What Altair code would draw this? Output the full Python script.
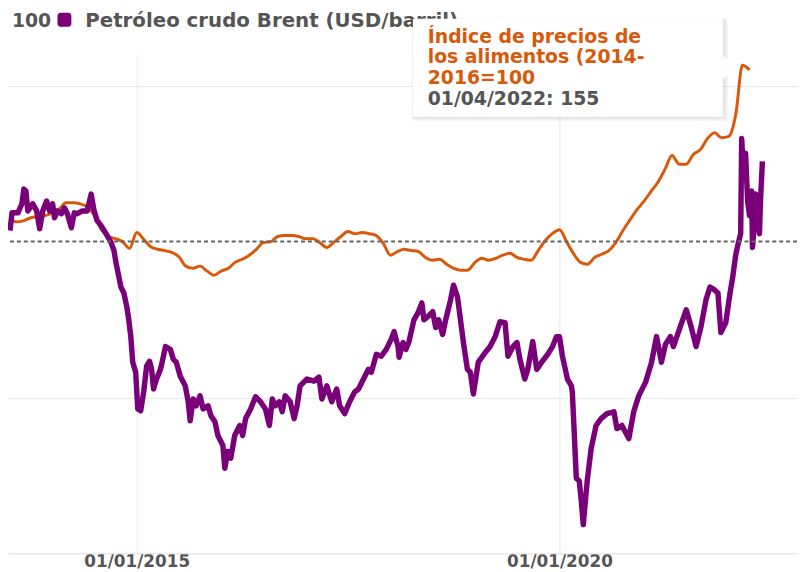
import altair as alt
import pandas as pd

# ---- data ----
# FAO food price index (2014-2016=100), monthly from Jul 2013 to Apr 2022
food_start = "2013-07-01"
food_values = [
    107.3, 106.3, 106.7, 107.6, 108.0, 108.3,
    109.2, 110.5, 112.4, 112.4, 112.1, 111.1, 108.6, 103.8, 101.6, 100.9, 99.9, 97.8,
    102.9, 100.6, 98.4, 97.5, 97.1, 96.5, 95.2, 92.1, 91.4, 92.1, 90.5, 89.2,
    90.5, 91.4, 93.3, 94.3, 95.6, 97.5, 99.7, 99.9, 101.6, 101.9, 101.9, 101.6,
    100.9, 100.9, 99.7, 98.1, 99.7, 101.6, 103.2, 102.5, 102.9, 102.5, 101.9, 99.4,
    95.6, 96.8, 97.5, 97.1, 96.8, 94.9, 94.0, 94.3, 92.7, 91.4, 90.8, 90.8,
    93.3, 94.6, 94.0, 94.6, 95.6, 96.2, 94.9, 94.3, 94.0, 97.1, 100.3, 102.5,
    103.8, 99.9, 96.2, 93.3, 92.7, 94.9, 95.9, 97.1, 99.7, 103.5, 107.0, 110.2,
    113.0, 116.2, 119.0, 123.2, 127.6, 124.8, 124.8, 127.9, 129.5, 133.0, 134.9, 133.3,
    133.7, 141.0, 156.5, 155.0,
]

# Brent crude (USD/barrel); dates as decimal years
brent_t = [
    2013.501, 2013.525, 2013.595, 2013.642, 2013.665, 2013.689, 2013.712, 2013.770,
    2013.817, 2013.852, 2013.888, 2013.934, 2013.970, 2014.005, 2014.028, 2014.063,
    2014.110, 2014.145, 2014.180, 2014.227, 2014.262, 2014.297, 2014.356, 2014.415,
    2014.461, 2014.496, 2014.532, 2014.578, 2014.637, 2014.696, 2014.731,
    2014.754, 2014.813, 2014.848, 2014.883, 2014.906, 2014.930, 2014.953, 2014.988,
    2015.012, 2015.047, 2015.082, 2015.117, 2015.152, 2015.176, 2015.199, 2015.234,
    2015.281, 2015.316, 2015.340, 2015.398, 2015.433, 2015.468, 2015.515, 2015.574,
    2015.609, 2015.632, 2015.667, 2015.703, 2015.749, 2015.785, 2015.843, 2015.878,
    2015.925, 2015.960, 2016.019, 2016.042, 2016.077, 2016.112, 2016.159, 2016.218,
    2016.253, 2016.288, 2016.347, 2016.405, 2016.464, 2016.522, 2016.569, 2016.604,
    2016.639, 2016.686, 2016.721, 2016.756, 2016.815, 2016.862, 2016.897, 2016.932,
    2017.014, 2017.096, 2017.155, 2017.190, 2017.248, 2017.307, 2017.365, 2017.400,
    2017.459, 2017.518, 2017.576, 2017.623, 2017.682, 2017.740, 2017.775, 2017.834,
    2017.892, 2017.951, 2018.009, 2018.044, 2018.091, 2018.103, 2018.150, 2018.185,
    2018.220, 2018.279, 2018.326, 2018.372, 2018.396, 2018.443, 2018.501, 2018.536,
    2018.571, 2018.618, 2018.654, 2018.712, 2018.747, 2018.794, 2018.829, 2018.864,
    2018.911, 2018.946, 2018.981, 2019.040, 2019.122, 2019.180, 2019.239, 2019.297,
    2019.356, 2019.391, 2019.450, 2019.497, 2019.532, 2019.590, 2019.625, 2019.684,
    2019.731, 2019.790, 2019.860, 2019.918, 2019.965, 2020.000, 2020.035, 2020.094,
    2020.141, 2020.152, 2020.176, 2020.199, 2020.234, 2020.258, 2020.281, 2020.328,
    2020.375, 2020.433, 2020.492, 2020.562, 2020.644, 2020.679, 2020.738, 2020.820,
    2020.878, 2020.937, 2021.019, 2021.089, 2021.148, 2021.206, 2021.253, 2021.312,
    2021.347, 2021.429, 2021.499, 2021.557, 2021.616, 2021.674, 2021.733, 2021.780,
    2021.838, 2021.874, 2021.909, 2021.967, 2022.014, 2022.049, 2022.084, 2022.108,
    2022.143, 2022.155, 2022.178, 2022.201, 2022.225, 2022.248, 2022.272, 2022.283,
    2022.307, 2022.319, 2022.342, 2022.365, 2022.377, 2022.400,
]
brent_v = [
    103.5, 109.2, 109.2, 112.1, 116.8, 116.2, 109.8, 112.1,
    109.8, 104.1, 109.8, 113.0, 109.8, 112.1, 107.6, 109.8,
    108.9, 110.8, 108.9, 104.4, 109.2, 108.9, 109.8, 109.8,
    115.2, 109.8, 106.7, 105.1, 102.5, 99.7, 97.1,
    93.3, 85.4, 83.5, 79.0, 74.9, 69.5, 61.3, 58.1,
    46.3, 45.7, 51.7, 60.0, 61.6, 59.0, 52.7, 55.9,
    59.0, 63.2, 66.3, 65.4, 62.2, 61.3, 56.8, 53.7,
    48.6, 42.5, 49.5, 47.3, 50.5, 46.3, 47.3, 44.1,
    42.2, 37.8, 34.6, 27.3, 32.7, 30.5, 37.8, 41.0,
    37.8, 43.2, 46.3, 50.2, 48.6, 46.3, 41.0, 49.5,
    47.3, 48.6, 45.4, 50.5, 48.6, 43.2, 47.3, 53.7,
    55.9, 55.2, 56.5, 49.5, 53.7, 48.6, 52.7, 47.3,
    44.8, 48.6, 51.7, 52.7, 55.9, 59.0, 58.1, 63.8,
    63.2, 65.4, 68.6, 71.1, 66.3, 62.9, 67.6, 65.4,
    67.9, 74.9, 77.1, 80.3, 74.9, 75.9, 77.5, 72.4,
    74.9, 70.2, 74.9, 81.3, 86.0, 82.2, 74.9, 67.6,
    59.0, 58.1, 51.1, 61.3, 64.4, 66.3, 69.5, 74.3,
    74.0, 63.2, 66.3, 67.6, 62.2, 55.9, 59.0, 67.9,
    59.0, 61.3, 63.8, 66.3, 69.5, 69.5, 63.2, 55.9,
    53.7, 51.7, 37.8, 24.1, 23.2, 16.8, 9.2, 23.2,
    33.7, 41.0, 43.2, 44.8, 45.4, 40.0, 41.0, 36.8,
    45.4, 50.5, 54.9, 61.3, 69.5, 61.3, 67.0, 69.5,
    66.3, 72.7, 78.1, 72.7, 66.3, 72.7, 81.3, 85.4,
    84.4, 83.5, 70.8, 74.0, 82.9, 88.6, 95.6, 98.7,
    102.5, 133.0, 121.0, 128.3, 113.0, 108.3, 116.2, 98.1,
    106.7, 115.2, 108.3, 102.5, 113.0, 125.7,
]

x_ticks = ["2015-01-01", "2020-01-01"]
legend_label = "Petróleo crudo Brent (USD/barril)"
baseline_label = "100"
tip_lines = ["Índice de precios de", "los alimentos (2014-", "2016=100"]
tip_value = "01/04/2022: 155"

# ---- build tables ----
food = pd.DataFrame({
    "fecha": pd.date_range(food_start, periods=len(food_values), freq="MS"),
    "v": food_values,
})
base = pd.Timestamp("2015-01-01")
brent = pd.DataFrame({
    "fecha": [base + pd.Timedelta(days=(t - 2015) * 365.2) for t in brent_t],
    "v": brent_v,
})
one = pd.DataFrame({"a": [0]})

PURPLE = "#7a007a"
ORANGE = "#d9590b"
GRAY = "#555555"
FONT = "DejaVu Sans"

xscale = alt.Scale(domain=[alt.DateTime(year=2013, month=6, date=24),
                           alt.DateTime(year=2022, month=10, date=23)])
yscale = alt.Scale(domain=[0, 160], nice=False, zero=False)

xaxis = alt.Axis(
    values=[alt.DateTime(year=int(s[:4]), month=int(s[5:7]), date=int(s[8:])) for s in x_ticks],
    format="%d/%m/%Y", title=None, grid=True, gridColor="#e8e8e8",
    ticks=False, domainColor="#dddddd", labelColor=GRAY, labelFont=FONT,
    labelFontSize=17, labelFontWeight="bold", labelPadding=0,
)
yaxis = alt.Axis(values=[50, 150], title=None, labels=False, ticks=False,
                 domain=False, grid=True, gridColor="#e8e8e8")

food_line = alt.Chart(food).mark_line(color=ORANGE, strokeWidth=3, interpolate="monotone").encode(
    x=alt.X("fecha:T", scale=xscale, axis=xaxis),
    y=alt.Y("v:Q", scale=yscale, axis=yaxis),
)
brent_line = alt.Chart(brent).mark_line(color=PURPLE, strokeWidth=5.5, strokeJoin="round").encode(
    x="fecha:T", y="v:Q",
)
rule = alt.Chart(pd.DataFrame({"v": [100]})).mark_rule(
    color="#666666", strokeWidth=2, strokeDash=[4, 3]
).encode(y="v:Q")


def label(txt, x, y, color, size):
    return alt.Chart(one).mark_text(
        text=txt, font=FONT, fontSize=size, fontWeight="bold", color=color,
        align="left", baseline="alphabetic").encode(x=alt.value(x), y=alt.value(y))


t100 = label(baseline_label, 4, -28, GRAY, 19)
sq = alt.Chart(one).mark_rect(color=PURPLE, cornerRadius=3).encode(
    x=alt.value(50), x2=alt.value(64), y=alt.value(-42), y2=alt.value(-28))
tleg = label(legend_label, 78, -28, GRAY, 20)

shadow1 = alt.Chart(one).mark_rect(color="#000000", opacity=0.05).encode(
    x=alt.value(408), x2=alt.value(727), y=alt.value(-36), y2=alt.value(67))
shadow2 = alt.Chart(one).mark_rect(color="#000000", opacity=0.05).encode(
    x=alt.value(409), x2=alt.value(725), y=alt.value(-36), y2=alt.value(65))
box = alt.Chart(one).mark_rect(color="white").encode(
    x=alt.value(409), x2=alt.value(722), y=alt.value(-36), y2=alt.value(63))
pointer = alt.Chart(one).mark_point(
    shape="M -0.6 -1 L 0.6 0 L -0.6 1 Z", filled=True, color="white", opacity=1, size=576,
).encode(x=alt.value(729), y=alt.value(13))

tip_layers = [label(line, 424, -12 + 21 * i, ORANGE, 19) for i, line in enumerate(tip_lines)]
tip_layers.append(label(tip_value, 424, 51, GRAY, 19))

chart = alt.layer(
    food_line, brent_line, rule, t100, sq, tleg, shadow1, shadow2, box, pointer, *tip_layers
).properties(
    width=797, height=504,
    autosize=alt.AutoSizeParams(type="none"),
    padding={"left": 0, "top": 44, "right": 2, "bottom": 16},
).configure(background="white").configure_view(stroke=None)

chart.save("out.html", embed_options={"renderer": "svg", "actions": False})
